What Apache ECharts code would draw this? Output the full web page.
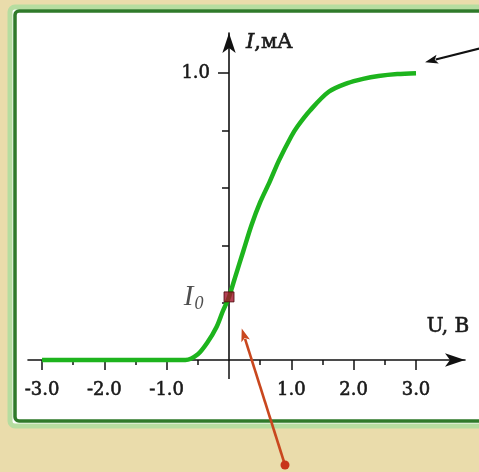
<!DOCTYPE html>
<html>
<head>
<meta charset="utf-8">
<script src="https://cdn.jsdelivr.net/npm/echarts@6/dist/echarts.min.js"></script>
<style>
  html, body { margin: 0; padding: 0; background: #eadcab; }
  #chart { width: 479px; height: 472px; }
</style>
</head>
<body>
<div id="chart"></div>
<script>
// Current–voltage characteristic: U in volts, I in milliamps
const voltage = [-3.0, -2.0, -1.0, -0.7, -0.5, -0.35, -0.2, -0.1, 0.0, 0.1, 0.23, 0.36, 0.5, 0.65, 0.8, 1.0, 1.1, 1.3, 1.6, 1.9, 2.15, 2.4, 2.7, 3.0];
const current = [0.0, 0.0, 0.0, 0.0, 0.02, 0.06, 0.115, 0.17, 0.22, 0.29, 0.38, 0.47, 0.55, 0.62, 0.695, 0.78, 0.815, 0.87, 0.935, 0.965, 0.98, 0.99, 0.997, 1.0];

// Current at zero voltage
const zeroPoint = [0.0, 0.22];

// Axis ticks and labels
const xMajorTicks = [-3, -2, -1, 0, 1, 2, 3];
const xMinorTicks = [-2.5, -1.5, -0.5, 0.5, 1.5, 2.5];
const xTickLabels = [-3, -2, -1, 1, 2, 3];
const yMajorTicks = [1.0];
const yMinorTicks = [0.2, 0.4, 0.6, 0.8];
const yTickLabels = [1.0];

// Pointer arrows (tail, tip) in axis units
const saturationPointer = [[4.03, 1.087], [3.145, 1.038]];
const zeroPointer = [[0.898, -0.366], [0.204, 0.110]];

const X_MIN = -3.225, X_MAX = 3.786, Y_MIN = 0, Y_MAX = 1.14;
const GRID = { left: 28, right: 14, top: 33, bottom: 112 };
const CHART_W = 479;
const serif = 'DejaVu Serif';
const ink = '#1a1a1a';
// slightly heavier strokes for the serif lettering
const heavy = { textBorderColor: ink, textBorderWidth: 0.6 };

// the vertical axis stands at U = 0
const yAxisShift = -(0 - X_MIN) * (CHART_W - GRID.left - GRID.right) / (X_MAX - X_MIN);

const chart = echarts.init(document.getElementById('chart'), null, { renderer: 'canvas' });

function makeXAxis(idx, ticks, tickLen, labels) {
  return {
    type: 'value', min: X_MIN, max: X_MAX, position: 'bottom',
    axisLine: {
      show: idx === 0, onZero: false,
      symbol: ['none', 'arrow'], symbolSize: [10, 20],
      lineStyle: { color: '#111', width: 1.6 }
    },
    axisTick: { show: true, customValues: ticks, length: tickLen, lineStyle: { color: '#111', width: 1.5 } },
    axisLabel: labels ? Object.assign({
      show: true, customValues: labels, formatter: v => v.toFixed(1),
      margin: 21, fontFamily: serif, fontSize: 18, color: ink
    }, heavy) : { show: false },
    splitLine: { show: false },
    name: idx === 0 ? 'U, В' : '',
    nameLocation: 'end', nameGap: -17,
    nameTextStyle: Object.assign({
      fontFamily: serif, fontSize: 20, color: ink,
      align: 'center', verticalAlign: 'bottom', padding: [0, 0, 23, 0]
    }, heavy)
  };
}

function makeYAxis(idx, ticks, tickLen, labels) {
  return {
    type: 'value', min: Y_MIN, max: Y_MAX, position: 'left', offset: yAxisShift,
    axisLine: {
      show: idx === 0, onZero: false,
      symbol: ['none', 'arrow'], symbolSize: [10, 20],
      lineStyle: { color: '#111', width: 1.6 }
    },
    axisTick: { show: true, customValues: ticks, length: tickLen, lineStyle: { color: '#111', width: 1.5 } },
    axisLabel: labels ? Object.assign({
      show: true, customValues: labels, formatter: v => v.toFixed(1),
      margin: 19, fontFamily: serif, fontSize: 18, color: ink
    }, heavy) : { show: false },
    splitLine: { show: false },
    name: idx === 0 ? '{i|I}{r|,мA}' : '',
    nameLocation: 'end', nameGap: -10,
    nameTextStyle: {
      align: 'left', verticalAlign: 'middle', padding: [0, 0, 0, 17],
      rich: {
        i: Object.assign({ fontFamily: serif, fontStyle: 'italic', fontSize: 21, color: ink }, heavy),
        r: Object.assign({ fontFamily: serif, fontSize: 21, color: ink }, heavy)
      }
    }
  };
}

chart.setOption({
  animation: false,
  backgroundColor: '#eadcab',
  grid: Object.assign({ containLabel: false, outerBoundsMode: 'none' }, GRID),
  xAxis: [
    makeXAxis(0, xMajorTicks, 10, xTickLabels),
    makeXAxis(1, xMinorTicks, 5, null),
    // the vertical axis continues a little below U-axis
    makeXAxis(2, [0], 19, null)
  ],
  yAxis: [
    makeYAxis(0, yMinorTicks, 7, null),
    makeYAxis(1, yMajorTicks, 11, yTickLabels)
  ],
  series: [
    {
      type: 'line',
      xAxisIndex: 0, yAxisIndex: 0,
      data: voltage.map((u, i) => [u, current[i]]),
      smooth: 0.3,
      showSymbol: false, symbol: 'none',
      clip: false,
      lineStyle: { color: '#1db41d', width: 4.5 },
      z: 3
    },
    {
      type: 'scatter',
      xAxisIndex: 0, yAxisIndex: 0,
      data: [zeroPoint],
      symbol: 'rect', symbolSize: 10,
      clip: false,
      itemStyle: { color: '#a3122a', borderColor: '#4a0808', borderWidth: 1 },
      label: {
        show: true, position: 'left', distance: 20,
        formatter: '{i|I}{s|0}',
        rich: {
          i: { fontFamily: 'Liberation Serif', fontStyle: 'italic', fontSize: 29, color: '#222' },
          s: { fontFamily: 'Liberation Serif', fontStyle: 'italic', fontSize: 18, color: '#222', padding: [15, 0, 0, 1] }
        }
      },
      z: 5
    }
  ]
});

// Frame of the panel and the pointer arrows
function arrowGraphics(pointer, color, width, headLen, headHalf, withDot) {
  const a = chart.convertToPixel({ xAxisIndex: 0, yAxisIndex: 0 }, pointer[0]);
  const b = chart.convertToPixel({ xAxisIndex: 0, yAxisIndex: 0 }, pointer[1]);
  const dx = b[0] - a[0], dy = b[1] - a[1];
  const len = Math.hypot(dx, dy);
  const ux = dx / len, uy = dy / len;
  const bx = b[0] - ux * headLen, by = b[1] - uy * headLen;
  const items = [
    { type: 'line', z: 100, shape: { x1: a[0], y1: a[1], x2: bx + ux * 2, y2: by + uy * 2 },
      style: { stroke: color, lineWidth: width } },
    { type: 'polygon', z: 100, shape: { points: [
        [b[0], b[1]],
        [bx - uy * headHalf, by + ux * headHalf],
        [bx + ux * 3, by + uy * 3],
        [bx + uy * headHalf, by - ux * headHalf]
      ] }, style: { fill: color } }
  ];
  if (withDot) {
    items.push({ type: 'circle', z: 100, shape: { cx: a[0], cy: a[1], r: 4.5 }, style: { fill: '#c8341a' } });
  }
  return items;
}

chart.setOption({
  graphic: [
    { type: 'rect', z: -10, silent: true,
      shape: { x: 10, y: 7, width: 480, height: 419, r: 5 },
      style: { fill: '#ffffff', stroke: '#b6dda0', lineWidth: 5 } },
    { type: 'rect', z: -9, silent: true,
      shape: { x: 15, y: 11, width: 475, height: 410, r: 4 },
      style: { fill: '#ffffff', stroke: '#2f7a2a', lineWidth: 3.5 } }
  ].concat(
    arrowGraphics(saturationPointer, '#111111', 2.2, 13, 4.5, false),
    arrowGraphics(zeroPointer, '#c9471e', 2.6, 13, 4.5, true)
  )
});
</script>
</body>
</html>
